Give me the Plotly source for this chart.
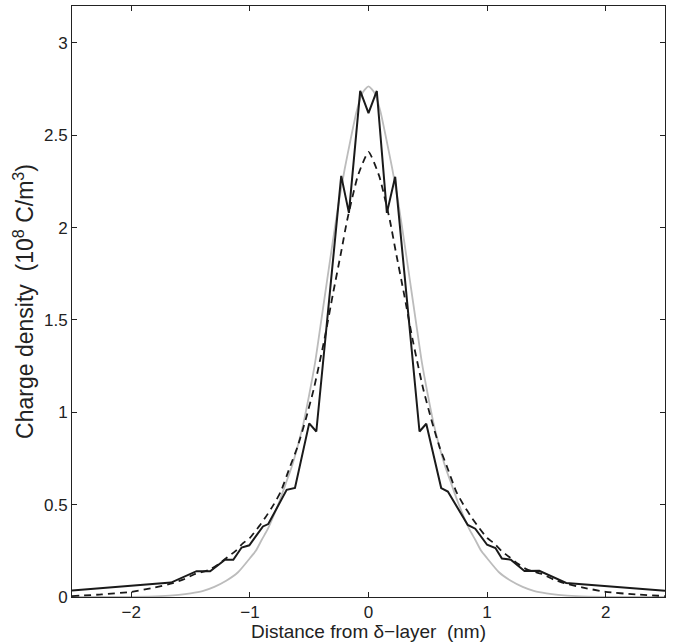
import plotly.graph_objects as go

# Simulated charge density (solid black)
sim_x = [-2.5, -1.665, -1.45, -1.335, -1.21, -1.14, -1.07, -1.005, -0.89, -0.845,
         -0.69, -0.62, -0.5, -0.44, -0.23, -0.165, -0.07, 0.0, 0.07, 0.155,
         0.225, 0.43, 0.487, 0.613, 0.669, 0.837, 0.9, 1.0, 1.07, 1.125,
         1.2, 1.315, 1.44, 1.667, 2.5]
sim_y = [0.035, 0.078, 0.14, 0.139, 0.202, 0.202, 0.268, 0.28, 0.382, 0.395,
         0.58, 0.59, 0.94, 0.896, 2.28, 2.08, 2.74, 2.62, 2.74, 2.08,
         2.275, 0.896, 0.938, 0.59, 0.571, 0.39, 0.37, 0.283, 0.265, 0.208,
         0.202, 0.141, 0.142, 0.076, 0.034]

# Model charge density (dashed)
model_x = [-2.5, -2.25, -2.0, -1.8, -1.65, -1.56, -1.46, -1.34, -1.26, -1.19,
           -1.12, -1.06, -1.0, -0.92, -0.87, -0.8, -0.74, -0.665, -0.6, -0.53,
           -0.46, -0.37, -0.3, -0.23, -0.18, -0.09, 0.0, 0.09, 0.18, 0.23,
           0.3, 0.37, 0.46, 0.53, 0.6, 0.665, 0.74, 0.8, 0.87, 0.92,
           1.0, 1.06, 1.12, 1.19, 1.26, 1.34, 1.46, 1.56, 1.65, 1.8,
           2.0, 2.25, 2.5]
model_y = [0.005, 0.014, 0.028, 0.052, 0.075, 0.095, 0.125, 0.148, 0.18, 0.215,
           0.25, 0.29, 0.32, 0.385, 0.43, 0.5, 0.57, 0.70, 0.81, 0.96,
           1.13, 1.40, 1.64, 1.87, 2.04, 2.28, 2.41, 2.28, 2.04, 1.87,
           1.64, 1.40, 1.13, 0.96, 0.81, 0.70, 0.57, 0.5, 0.43, 0.385,
           0.32, 0.29, 0.25, 0.215, 0.18, 0.148, 0.125, 0.095, 0.075, 0.052,
           0.028, 0.014, 0.005]

# Reference profile (gray)
ref_x = [-2.5, -2.0, -1.75, -1.6, -1.5, -1.4, -1.3, -1.2, -1.1, -1.0,
         -0.95, -0.9, -0.85, -0.8, -0.75, -0.7, -0.65, -0.6, -0.55, -0.5,
         -0.45, -0.4, -0.35, -0.3, -0.25, -0.2, -0.15, -0.1, -0.05, 0.0,
         0.05, 0.1, 0.15, 0.2, 0.25, 0.3, 0.35, 0.4, 0.45, 0.5,
         0.55, 0.6, 0.65, 0.7, 0.75, 0.8, 0.85, 0.9, 0.95, 1.0,
         1.1, 1.2, 1.3, 1.4, 1.5, 1.6, 1.75, 2.0, 2.5]
ref_y = [0.0, 0.001, 0.005, 0.012, 0.02, 0.032, 0.055, 0.088, 0.134, 0.21,
         0.25, 0.31, 0.367, 0.44, 0.52, 0.61, 0.70, 0.81, 0.936, 1.095,
         1.27, 1.49, 1.71, 1.93, 2.14, 2.32, 2.48, 2.63, 2.73, 2.765,
         2.73, 2.63, 2.48, 2.32, 2.14, 1.93, 1.71, 1.49, 1.27, 1.095,
         0.936, 0.81, 0.70, 0.61, 0.52, 0.44, 0.367, 0.31, 0.25, 0.21,
         0.134, 0.088, 0.055, 0.032, 0.02, 0.012, 0.005, 0.001, 0.0]

x_ticks = [-2, -1, 0, 1, 2]
y_ticks = [0, 0.5, 1, 1.5, 2, 2.5, 3]

fig = go.Figure()
fig.add_trace(go.Scatter(x=ref_x, y=ref_y, mode="lines",
                         line=dict(color="#bcbcbc", width=1.8, shape="spline", smoothing=0.6),
                         showlegend=False))
fig.add_trace(go.Scatter(x=model_x, y=model_y, mode="lines",
                         line=dict(color="#1a1a1a", width=1.8, dash="7px,5px", shape="spline", smoothing=0.5),
                         showlegend=False))
fig.add_trace(go.Scatter(x=sim_x, y=sim_y, mode="lines",
                         line=dict(color="#1a1a1a", width=2),
                         showlegend=False))

font = "Liberation Sans, Arial, Helvetica, sans-serif"
axis_common = dict(showgrid=False, zeroline=False, showline=True, linecolor="#222222",
                   linewidth=1, mirror="ticks", ticks="inside", ticklen=5,
                   tickcolor="#222222", tickfont=dict(family=font, size=17, color="#222222"))

fig.update_layout(
    width=673, height=642,
    margin=dict(l=72, r=8, t=6, b=45),
    paper_bgcolor="white", plot_bgcolor="white",
    font=dict(family=font, color="#222222"),
    xaxis=dict(range=[-2.5, 2.5], tickvals=x_ticks, automargin=False,
               title=dict(text="Distance from δ−layer\u00a0\u00a0(nm)", font=dict(size=19), standoff=3),
               **axis_common),
    yaxis=dict(range=[0, 3.2], tickvals=y_ticks, automargin=False,
               title=dict(text="Charge density\u00a0\u00a0(10<sup>8</sup> C/m<sup>3</sup>)", font=dict(size=23), standoff=3),
               **axis_common),
)

fig.write_html("out.html", config={"displayModeBar": False},
               post_script="document.body.style.margin='0';document.body.style.padding='0';")
